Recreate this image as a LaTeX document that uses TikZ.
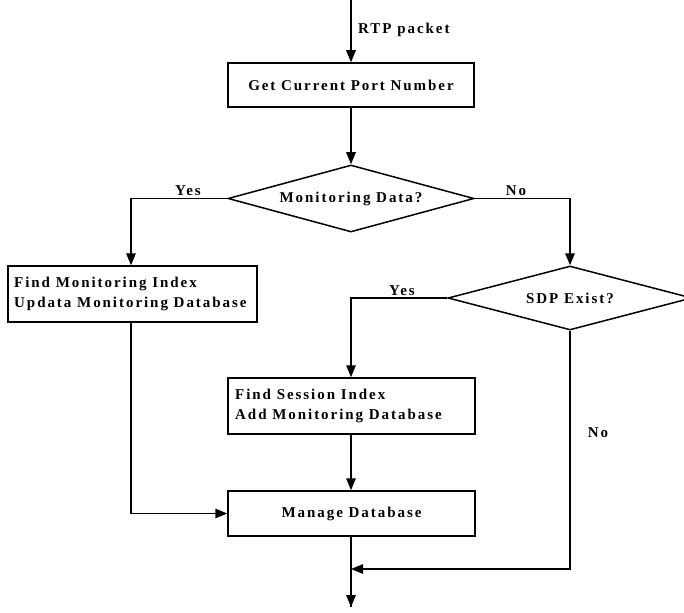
\documentclass[tikz,border=0pt]{standalone}
\usepackage{fontspec}
\setmainfont{Liberation Serif}[LetterSpace=13]
\usetikzlibrary{arrows.meta,shapes.geometric}

\tikzset{
  flow/.style={line width=1.5pt, -{Triangle[length=12pt,width=9.5pt]}},
  plain/.style={line width=1.5pt},
  procbox/.style={draw, line width=1.5pt, rectangle, inner sep=0pt,
    font=\bfseries\fontsize{15}{18}\selectfont},
  decision/.style={draw, line width=1.5pt, diamond, inner sep=0pt,
    font=\bfseries\fontsize{15}{16}\selectfont},
  lbl/.style={font=\bfseries\fontsize{15}{16}\selectfont, inner sep=0pt},
  lines/.style={align=left, anchor=west, inner sep=0pt,
    font=\bfseries\fontsize{15}{20}\selectfont}
}

\begin{document}
\begin{tikzpicture}[x=1pt, y=-1pt]
  \useasboundingbox (0,0) rectangle (684,612);

  % process boxes and decisions
  \node[procbox, minimum width=246pt, minimum height=44pt] (port) at (351,85)
    {Get Current Port Number};
  \node[decision, aspect=3.67, minimum width=246pt, minimum height=67pt] (mon) at (351,198.5)
    {Monitoring Data?};
  \node[procbox, minimum width=249pt, minimum height=56pt] (upd) at (132.5,294) {};
  \node[lines] (updtxt) at (14,294)
    {Find Monitoring Index\\Updata Monitoring Database};
  \node[decision, aspect=3.8, minimum width=244pt, minimum height=64pt] (sdp) at (570,298)
    {SDP Exist?};
  \node[procbox, minimum width=247pt, minimum height=56pt] (add) at (351.5,406) {};
  \node[lines] (addtxt) at (235,406)
    {Find Session Index\\Add Monitoring Database};
  \node[procbox, minimum width=247pt, minimum height=45pt] (mgr) at (351.5,513.5)
    {Manage Database};

  % free ends of the flow
  \coordinate (in) at (351,0);
  \coordinate (out) at (351,607);
  \coordinate (join) at (351,569);

  % connectors
  \draw[flow] (in) -- (port.north);
  \draw[flow] (port.south) -- (mon.north);
  \draw[flow] (mon.west) -| (upd.north -| 131,0);
  \draw[flow] (mon.east) -| (sdp.north);
  \draw[flow] (sdp.west) -| (add.north -| 351,0);
  \draw[flow] (add.south -| 351,0) -- (mgr.north -| 351,0);
  \draw[flow] (upd.south -| 131,0) |- (mgr.west);
  \draw[plain] (mgr.south -| 351,0) -- (out);
  \draw[flow] (sdp.south) |- (join);
  \draw[flow] (join) -- (out);

  % labels
  \node[lbl, anchor=west] (rtp) at (358,30) {RTP packet};
  \node[lbl, anchor=south] (yes1) at (188,196) {Yes};
  \node[lbl, anchor=south] (no1) at (516,196) {No};
  \node[lbl, anchor=south] (yes2) at (402,296) {Yes};
  \node[lbl] (no2) at (598,433) {No};
\end{tikzpicture}
\end{document}
